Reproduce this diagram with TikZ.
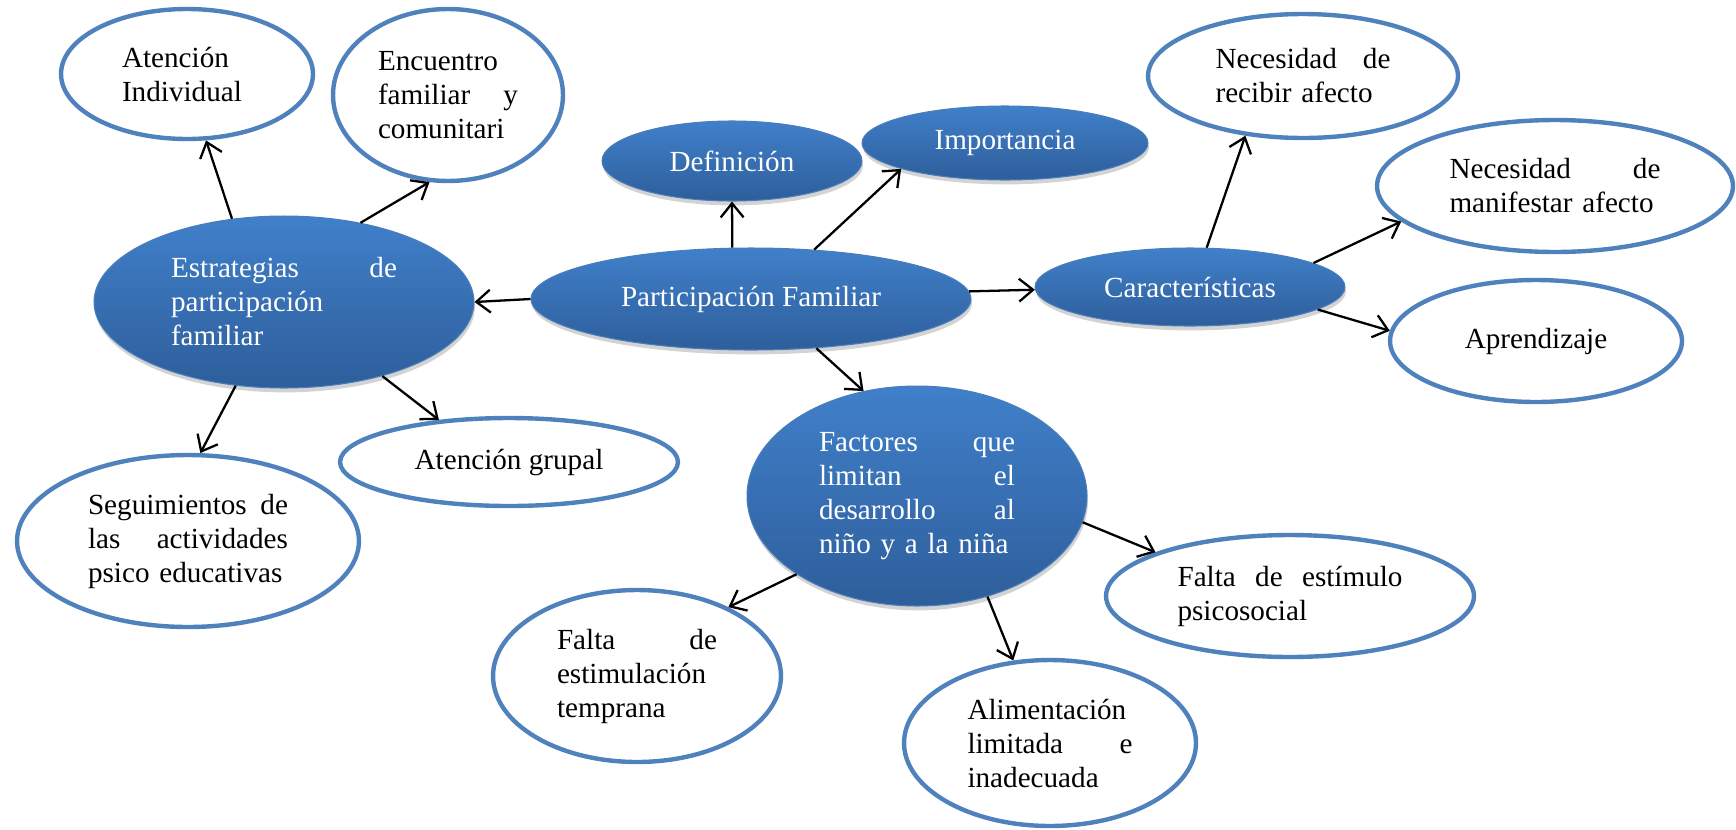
\documentclass[tikz,border=0pt]{standalone}
\usepackage{fontspec}
\setmainfont{Liberation Serif}
\usetikzlibrary{shapes.geometric,arrows.meta,shadows}

\definecolor{ringblue}{RGB}{79,129,189}
\definecolor{topblue}{RGB}{64,128,202}
\definecolor{botblue}{RGB}{46,94,155}
\definecolor{edgeblue}{RGB}{74,126,187}

\tikzset{
  concept/.style={ellipse, draw=edgeblue, line width=0.6pt,
    top color=topblue, bottom color=botblue, text=white, inner sep=0pt,
    drop shadow={opacity=0.35, shadow xshift=0.6pt, shadow yshift=-2.5pt}},
  detail/.style={ellipse, draw=ringblue, line width=2.5pt, fill=white,
    text=black, inner sep=0pt},
  link/.style={-{Straight Barb[length=8pt,width=13pt]}, line width=1.3pt},
}

\begin{document}
\begin{tikzpicture}[x=0.02cm, y=-0.02cm, font=\fontsize{16.6}{19.35}\selectfont]
\useasboundingbox (0,0) rectangle (1736,829);

% centro
\node[concept, minimum width=8.8cm, minimum height=2.04cm] (pf) at (751,299) {Participación Familiar};
\node[concept, minimum width=5.2cm, minimum height=1.6cm] (def) at (732,161) {Definición};
\node[concept, minimum width=5.72cm, minimum height=1.48cm] (imp) at (1005,143) {Importancia};
\node[concept, minimum width=6.2cm, minimum height=1.56cm] (car) at (1190,287) {Características};
\node[concept, minimum width=7.6cm, minimum height=3.44cm, text width=4.52cm, align=left] (estr) at (284,302)
  {Estrategias\hfill de\\ participación\\ familiar};
\node[concept, minimum width=6.8cm, minimum height=4.4cm, text width=3.92cm, align=left] (fac) at (917,496)
  {Factores\hfill que\\ limitan\hfill el\\ desarrollo\hfill al\\ niño y a la niña};

% estrategias
\node[detail, minimum width=5.04cm, minimum height=2.6cm, text width=2.6cm, align=left] (ai) at (187,74)
  {Atención\\ Individual};
\node[detail, minimum width=4.6cm, minimum height=3.44cm, text width=2.8cm, align=left] (enc) at (448,95)
  {Encuentro\\ familiar\hfill y\\ comunitari};
\node[detail, minimum width=6.84cm, minimum height=3.44cm, text width=4.0cm, align=left] (seg) at (188,541)
  {Seguimientos\hfill de\\ las\hfill actividades\\ psico educativas};
\node[detail, minimum width=6.76cm, minimum height=1.76cm] (ag) at (509,462) {Atención grupal};

% caracteristicas
\node[detail, minimum width=6.2cm, minimum height=2.48cm, text width=3.5cm, align=left] (rec) at (1303,76)
  {Necesidad\hfill de\\ recibir afecto};
\node[detail, minimum width=7.12cm, minimum height=2.64cm, text width=4.22cm, align=left] (man) at (1555,186)
  {Necesidad\hfill de\\ manifestar afecto};
\node[detail, minimum width=5.84cm, minimum height=2.44cm] (apr) at (1536,341) {Aprendizaje};

% factores
\node[detail, minimum width=5.76cm, minimum height=3.44cm, text width=3.2cm, align=left] (fe) at (637,676)
  {Falta\hfill de\\ estimulación\\ temprana};
\node[detail, minimum width=5.84cm, minimum height=3.32cm, text width=3.3cm, align=left] (al) at (1050,743)
  {Alimentación\\ limitada\hfill e\\ inadecuada};
\node[detail, minimum width=7.36cm, minimum height=2.44cm, text width=4.5cm, align=left] (fs) at (1290,596)
  {Falta\hfill de\hfill estímulo\\ psicosocial};

% flechas
\draw[link] (pf.180) -- (estr.0);
\draw[link] (pf.110) -- (def.south);
\draw[link] (pf.38) -- (imp.194);
\draw[link] (pf.2) -- (car.181);
\draw[link] (pf.323) -- (fac.117);

\draw[link] (estr.122) -- (ai.286);
\draw[link] (estr.46) -- (enc.258);
\draw[link] (estr.240) -- (seg.82);
\draw[link] (estr.323) -- (ag.149);

\draw[link] (car.67) -- (rec.226);
\draw[link] (car.11) -- (man.193);
\draw[link] (car.350) -- (apr.176);

\draw[link] (fac.213) -- (fe.37);
\draw[link] (fac.305) -- (al.114);
\draw[link] (fac.351) -- (fs.162);

\end{tikzpicture}
\end{document}
